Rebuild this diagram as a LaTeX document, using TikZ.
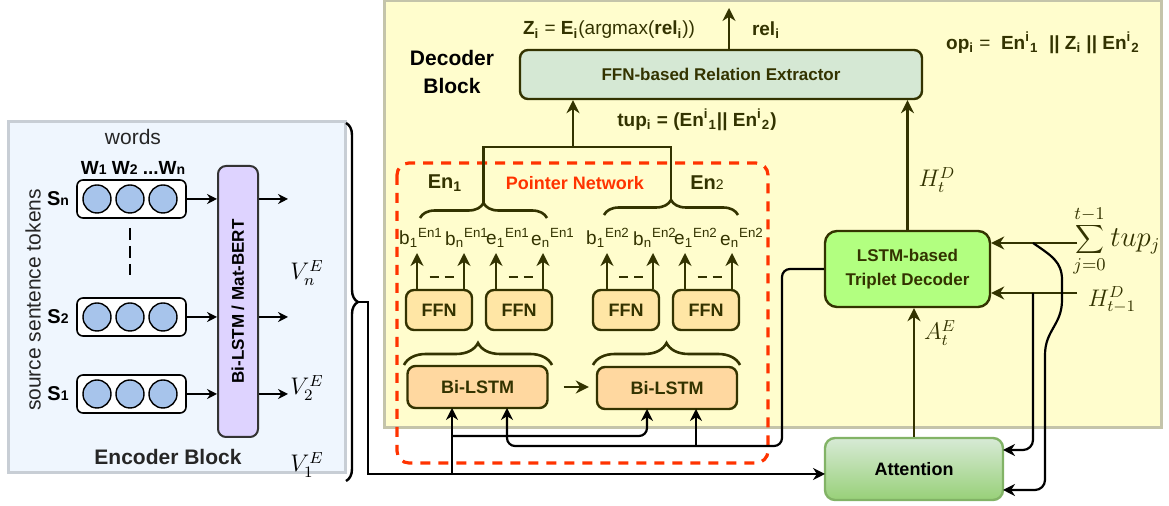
\documentclass[tikz,border=0pt]{standalone}
\usepackage[no-math]{fontspec}
\setmainfont{Liberation Sans}
\usepackage{graphicx}
\usetikzlibrary{arrows.meta,decorations.pathreplacing,calc,positioning}

% colours
\definecolor{darkolive}{RGB}{51,51,0}
\definecolor{encfill}{RGB}{239,246,254}
\definecolor{encline}{RGB}{200,206,213}
\definecolor{decfill}{RGB}{255,253,205}
\definecolor{decline}{RGB}{196,196,170}
\definecolor{relfill}{RGB}{213,232,212}
\definecolor{ffnfill}{RGB}{255,230,165}
\definecolor{lstmfill}{RGB}{255,216,160}
\definecolor{tripfill}{RGB}{178,255,128}
\definecolor{atttop}{RGB}{215,234,214}
\definecolor{attbot}{RGB}{152,208,120}
\definecolor{attline}{RGB}{130,179,102}
\definecolor{wordfill}{RGB}{167,196,235}
\definecolor{bertfill}{RGB}{222,211,255}
\definecolor{ptrred}{RGB}{255,51,0}

\newcommand{\smallidx}[1]{{\fontsize{7}{8}\selectfont #1}}

\tikzset{
  oline/.style={draw=darkolive, line width=1.3pt},
  oarrow/.style={oline, -{Stealth[length=6.5pt,width=6.5pt]}},
  karrow/.style={draw=black, line width=1.1pt, -{Stealth[length=6pt,width=6pt]}},
  encarrow/.style={draw=black, line width=0.7pt, -{Stealth[length=5pt,width=5pt]}},
  obrace/.style={oline, decorate, decoration={brace, amplitude=#1}},
  obrace/.default=7pt,
  kbrace/.style={draw=black, line width=1.2pt, decorate, decoration={brace, amplitude=6pt}},
  plainbox/.style={draw=darkolive, line width=1.2pt, rounded corners=4pt, inner sep=0pt,
    align=center, text=darkolive, font=\fontsize{9}{11}\selectfont\bfseries},
  relbox/.style={plainbox, fill=relfill, minimum width=201pt, minimum height=24.5pt,
    font=\fontsize{8.5}{10}\selectfont\bfseries},
  ffnbox/.style={plainbox, fill=ffnfill, minimum width=33pt, minimum height=20pt},
  lstmbox/.style={plainbox, fill=lstmfill, minimum width=70pt, minimum height=21pt},
  tripbox/.style={plainbox, fill=tripfill, minimum width=82.5pt, minimum height=38pt,
    rounded corners=6pt, font=\fontsize{8.5}{12}\selectfont\bfseries},
  attbox/.style={draw=attline, line width=1.2pt, rounded corners=5pt, top color=atttop,
    bottom color=attbot, minimum width=89pt, minimum height=31pt, inner sep=0pt,
    font=\fontsize{9}{11}\selectfont\bfseries},
  wordbox/.style={draw=black, line width=0.8pt, fill=white, rounded corners=3pt,
    minimum width=54.5pt, minimum height=19pt, inner sep=0pt},
  wordnode/.style={circle, draw=black, line width=0.7pt, fill=wordfill,
    minimum size=14pt, inner sep=0pt},
  bertbox/.style={draw=black!80, line width=1pt, fill=bertfill, rounded corners=4pt,
    minimum width=20pt, minimum height=135.5pt, inner sep=0pt,
    font=\fontsize{8.5}{10}\selectfont\bfseries},
  ptrbox/.style={draw=ptrred, line width=1.6pt, dash pattern=on 5pt off 4pt, rounded corners=6pt},
  blocktitle/.style={align=center, inner sep=0pt, font=\fontsize{10.5}{14}\selectfont\bfseries},
  eqlabel/.style={text=darkolive, inner sep=0pt, font=\fontsize{9.5}{11}\selectfont},
  elabel/.style={text=darkolive, inner sep=0pt, font=\fontsize{9.5}{11}\selectfont},
  mlabel/.style={text=darkolive, inner sep=0pt, font=\fontsize{12}{14}\selectfont},
  enctext/.style={text=black!85, inner sep=0pt, font=\fontsize{10.5}{12}\selectfont},
  slabel/.style={inner sep=0pt, font=\fontsize{10}{12}\selectfont\bfseries}
}

\begin{document}
\begin{tikzpicture}[x=0.5pt, y=-0.5pt]
  \useasboundingbox (0,0) rectangle (1169,506);

  %Decoder block
  \draw[decline, fill=decfill, line width=1.5pt] (384,1) rectangle (1161,428);
  \node[blocktitle] (dectitle) at (452,72) {Decoder\\Block};

  %Relation extractor
  \node[relbox] (rel) at (721,74.5) {FFN-based Relation Extractor};
  \coordinate (relout) at (729,8);
  \draw[oarrow] (rel.north -| relout) -- (relout);
  \node[eqlabel] (zlab) at (609,30) {\textbf{Z\textsubscript{i}} = \textbf{E\textsubscript{i}}(argmax(\textbf{rel\textsubscript{i}}))};
  \node[eqlabel] (rellab) at (766,30) {\textbf{rel\textsubscript{i}}};
  \node[eqlabel] (oplab) at (1043,43) {\textbf{op\textsubscript{i}} =\ \ \textbf{En\textsuperscript{i}\textsubscript{1}\ \ || Z\textsubscript{i} || En\textsuperscript{i}\textsubscript{2}}};

  %Pointer network
  \draw[ptrbox] (397,163) rectangle (768,463);
  \node[text=ptrred, font=\fontsize{9}{11}\selectfont\bfseries] (ptr) at (575,183) {Pointer Network};
  \node[text=darkolive, font=\fontsize{10}{12}\selectfont\bfseries] (en1) at (445,183) {En\textsubscript{1}};
  \node[text=darkolive, font=\fontsize{10}{12}\selectfont] (en2) at (707,183) {\textbf{En}\smallidx{2}};
  \draw[obrace=7.5pt] (420,218) -- (547,218);
  \draw[obrace=7.5pt] (604,215) -- (738,215);
  \coordinate (en1tip) at (483.5,203);
  \coordinate (en2tip) at (671,200);

  %tuple into extractor
  \coordinate (tupL) at (483.5,147);
  \coordinate (tupR) at (671,147);
  \coordinate (tupM) at (573,147);
  \draw[oline] (en1tip) -- (tupL) -- (tupR) -- (en2tip);
  \draw[oarrow] (tupM) -- (tupM |- rel.south);
  \node[eqlabel] (tuplab) at (697,120) {\textbf{tup\textsubscript{i} = (En\textsuperscript{i}\textsubscript{1}|| En\textsuperscript{i}\textsubscript{2})}};

  %FFN heads
  \foreach \i/\xx in {A/439, B/519, C/626, D/706}
    \node[ffnbox] (ffn\i) at (\xx,310) {FFN};
  \foreach \n/\xx in {A1/417, A2/464, B1/496, B2/543, C1/607, C2/653, D1/685, D2/732}
    \coordinate (t\n) at (\xx,253);
  \foreach \n/\xx/\txt in {A1/421/{b\textsubscript{1}\textsuperscript{En1}}, A2/467/{b\textsubscript{n}\textsuperscript{En1}},
      B1/508/{e\textsubscript{1}\textsuperscript{En1}}, B2/553/{e\textsubscript{n}\textsuperscript{En1}},
      C1/608/{b\textsubscript{1}\textsuperscript{En2}}, C2/655/{b\textsubscript{n}\textsuperscript{En2}},
      D1/696/{e\textsubscript{1}\textsuperscript{En2}}, D2/742/{e\textsubscript{n}\textsuperscript{En2}}}
    \node[elabel] (lb\n) at (\xx,238) {\txt};
  \foreach \b in {A,B,C,D}{
    \draw[oarrow] (ffn\b.north -| t\b1) -- (t\b1);
    \draw[oarrow] (ffn\b.north -| t\b2) -- (t\b2);
    \draw[oline, dash pattern=on 4.5pt off 3pt] ($(t\b1)!0.27!(t\b2)+(0,24)$) -- ($(t\b1)!0.79!(t\b2)+(0,24)$);
  }

  %Bi-LSTM encoders
  \node[lstmbox] (bl1) at (477.5,387) {Bi-LSTM};
  \node[lstmbox] (bl2) at (667,388) {Bi-LSTM};
  \draw[oarrow, shorten <=7.5pt, shorten >=3.5pt] (bl1.east) -- (bl2.west |- bl1.east);
  \draw[obrace=11pt] (404,365) -- (552,365);
  \draw[obrace=11pt] (593,365) -- (740,365);

  %Triplet decoder and attention
  \node[tripbox] (trip) at (907.5,269) {LSTM-based\\Triplet Decoder};
  \node[attbox] (att) at (914,469) {Attention};
  \draw[oarrow] (trip.north) -- (trip.north |- rel.south);
  \node[mlabel] (hD) at (937,180) {$H_t^D$};
  \draw[oarrow] (att.north) -- (att.north |- trip.south);
  \node[mlabel] (aE) at (940,333) {$A_t^E$};
  \coordinate (sumin) at (1077,243);
  \coordinate (hin) at (1077,293);
  \draw[oarrow] (sumin) -- (sumin -| trip.east);
  \draw[oarrow] (hin) -- (hin -| trip.east);
  \node[mlabel, anchor=west, font=\fontsize{13.5}{15}\selectfont] (sumlab) at (1073,241) {$\displaystyle\sum_{j=0}^{t-1} tup_j$};
  \node[mlabel] (hprev) at (1112,300) {$H_{t-1}^D$};

  %inputs of attention
  \coordinate (sumsplit) at (1033,243);
  \coordinate (hsplit) at (1033,293);
  \coordinate (attin1) at (1003,450);
  \coordinate (attin2) at (1003,490);
  \draw[karrow, rounded corners=5pt] (hsplit) |- (attin1);
  \draw[karrow, rounded corners=5pt] (sumsplit) .. controls (1052,256) and (1062,262) .. (1062,290)
    .. controls (1062,325) and (1045,330) .. (1045,365) |- (attin2);

  %decoder state back to Bi-LSTMs
  \coordinate (loopR) at (782,446);
  \coordinate (loopB) at (696,446);
  \coordinate (b1a) at (452,408);
  \coordinate (b1b) at (507,408);
  \coordinate (b2a) at (647,409);
  \coordinate (b2b) at (696,409);
  \draw[karrow, rounded corners=4pt] (trip.west) -| (loopR) -| (b1b);
  \draw[karrow] (loopB) -- (b2b);

  %Encoder block
  \draw[encline, fill=encfill, line width=1.5pt] (8,122) rectangle (345,473);
  \node[blocktitle, text=black!85] (enctitle) at (168,457) {Encoder Block};
  \node[enctext] (words) at (133,137) {words};
  \node[slabel, font=\fontsize{9.5}{11}\selectfont\bfseries] (wlab) at (133,168) {W\smallidx{1} W\smallidx{2} ...W\smallidx{n}};
  \node[enctext, rotate=90] (srclab) at (33,300) {source sentence tokens};
  \node[bertbox] (bert) at (238,301.5) {\rotatebox{90}{Bi-LSTM / Mat-BERT}};
  \foreach \r/\yy in {n/199, 2/317, 1/394}{
    \node[wordbox] (row\r) at (131.5,\yy) {};
    \foreach \k/\xx in {1/97, 2/130, 3/163}
      \node[wordnode] (w\r\k) at (\xx,\yy) {};
    \node[slabel] (s\r) at (58,\yy) {S\smallidx{\r}};
    \coordinate (out\r) at (288,\yy);
    \draw[encarrow] (row\r.east) -- (row\r.east -| bert.west);
    \draw[encarrow] (bert.east |- row\r.east) -- (out\r);
  }
  \draw[black, line width=1pt, dash pattern=on 6pt off 3pt] (130,228) -- (130,275);
  \node[mlabel, text=black] (vn) at (307,273) {$V_n^E$};
  \node[mlabel, text=black] (v2) at (307,388) {$V_2^E$};
  \node[mlabel, text=black] (v1) at (307,465) {$V_1^E$};
  \draw[kbrace] (346,123) -- (346,481);

  %encoder output to decoder
  \coordinate (enctip) at (357,302);
  \coordinate (encB) at (368,474);
  \coordinate (attin0) at (825,474);
  \coordinate (encsplit) at (452,474);
  \coordinate (encsplit2) at (452,436);
  \draw[karrow] (enctip) -| (encB) -- (attin0);
  \draw[karrow] (encsplit) -- (b1a);
  \draw[karrow, rounded corners=4pt] (encsplit2) -| (b2a);
\end{tikzpicture}
\end{document}
